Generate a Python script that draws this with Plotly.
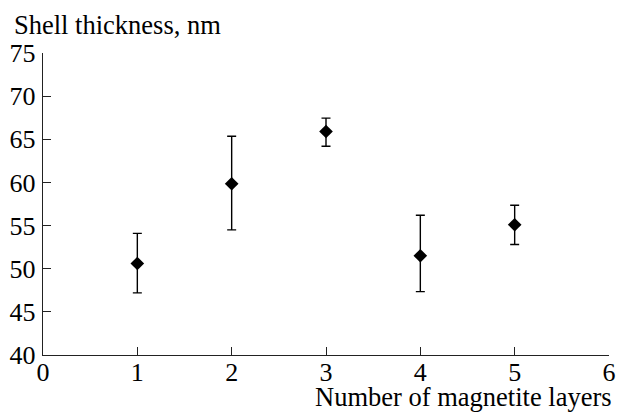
import plotly.graph_objects as go

layers = [1, 2, 3, 4, 5]
thickness = [50.6, 59.85, 65.9, 51.5, 55.1]
err_plus = [3.5, 5.5, 1.55, 4.7, 2.25]
err_minus = [3.4, 5.35, 1.7, 4.15, 2.3]

x_ticks = [0, 1, 2, 3, 4, 5, 6]
y_ticks = [40, 45, 50, 55, 60, 65, 70, 75]

font = dict(family="Liberation Serif, Times New Roman, serif", size=26, color="#000")
title_font = dict(family="Liberation Serif, Times New Roman, serif", size=26.5, color="#000")

fig = go.Figure()
fig.add_trace(go.Scatter(
    x=layers, y=thickness, mode="markers",
    marker=dict(symbol="diamond", size=10.5, color="black"),
    error_y=dict(type="data", symmetric=False, array=err_plus, arrayminus=err_minus,
                 color="black", thickness=1.4, width=4.5),
    showlegend=False,
))

fig.update_layout(
    width=618, height=412,
    margin=dict(l=43, r=9, t=53, b=57),
    paper_bgcolor="white", plot_bgcolor="white",
    font=font,
    xaxis=dict(range=[0, 6], tickvals=x_ticks, ticks="inside", ticklen=8, tickwidth=1.4,
               tickcolor="#222", showline=True, linecolor="#222", linewidth=1.4,
               showgrid=False, zeroline=False, tickfont=font, automargin=False,
               ticklabelstandoff=-6, ticklabeloverflow="allow"),
    yaxis=dict(range=[40, 75], tickvals=y_ticks, ticks="inside", ticklen=8, tickwidth=1.4,
               tickcolor="#222", showline=True, linecolor="#222", linewidth=1.4,
               showgrid=False, zeroline=False, tickfont=font, automargin=False,
               ticklabelstandoff=1),
    annotations=[
        dict(text="Shell thickness, nm", xref="paper", yref="paper", x=-0.055, y=1.0,
             yshift=28, xanchor="left", yanchor="middle", showarrow=False, font=title_font),
        dict(text="Number of magnetite layers", xref="paper", yref="paper", x=1.0, y=0,
             yshift=-42, xshift=5, xanchor="right", yanchor="middle", showarrow=False, font=title_font),
    ],
)

fig.write_html("out.html", config={"displayModeBar": False},
               post_script="document.body.style.margin='0';")
